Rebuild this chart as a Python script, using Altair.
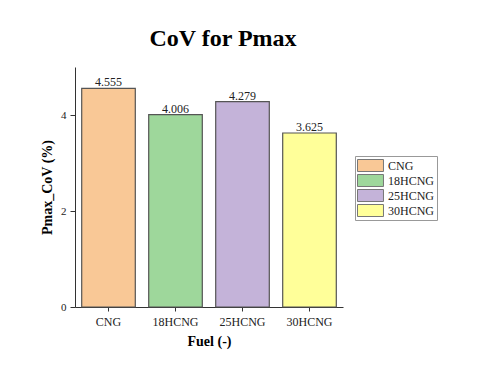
import altair as alt
import pandas as pd

fuels = ["CNG", "18HCNG", "25HCNG", "30HCNG"]
values = [4.555, 4.006, 4.279, 3.625]
labels = ["4.555", "4.006", "4.279", "3.625"]
colors = ["#F9C896", "#9ED79B", "#C4B3D9", "#FFFF99"]

df = pd.DataFrame({"Fuel": fuels, "v": values, "lab": labels})
FONT = "Liberation Serif"

x = alt.X("Fuel:N", sort=fuels, title="Fuel (-)",
          scale=alt.Scale(paddingInner=0.2, paddingOuter=0.1),
          axis=alt.Axis(labelAngle=0, labelFont=FONT, labelFontSize=12, labelColor="#222",
                        titleFont=FONT, titleFontSize=14, titleFontWeight="bold",
                        titleColor="#000", titlePadding=7, domainColor="#333",
                        tickColor="#333", tickSize=4, labelPadding=5))
y = alt.Y("v:Q", title="Pmax_CoV (%)",
          scale=alt.Scale(domain=[0, 5], nice=False),
          axis=alt.Axis(values=[0, 2, 4], labelFont=FONT, labelFontSize=11, labelColor="#222",
                        titleFont=FONT, titleFontSize=14, titleFontWeight="bold",
                        titleColor="#000", titlePadding=6, domainColor="#333",
                        tickColor="#333", tickSize=5, grid=False, labelPadding=4))

bars = alt.Chart(df).mark_bar(stroke="#555", strokeWidth=1.2).encode(
    x=x, y=y,
    color=alt.Color("Fuel:N", sort=fuels,
                    scale=alt.Scale(domain=fuels, range=colors),
                    legend=alt.Legend(title=None, orient="none", legendX=280, legendY=89,
                                      symbolType="M-1,-1L3.33,-1L3.33,1L-1,1Z",
                                      symbolSize=144, symbolStrokeColor="#777",
                                      symbolStrokeWidth=1, symbolOpacity=1,
                                      labelFont=FONT, labelFontSize=12, labelColor="#222",
                                      strokeColor="#999", padding=2, rowPadding=0,
                                      clipHeight=15, labelOffset=18)),
)

text = alt.Chart(df).mark_text(dy=-6, font=FONT, fontSize=12, color="#222").encode(
    x=alt.X("Fuel:N", sort=fuels), y="v:Q", text="lab:N")

chart = alt.layer(bars, text).properties(
    width=268, height=240,
    title=alt.Title("CoV for Pmax", font=FONT, fontSize=24, fontWeight="bold",
                    color="#000", anchor="middle", offset=16, dx=14),
    autosize=alt.AutoSizeParams(type="none"),
    padding={"left": 67, "top": 59, "right": 129, "bottom": 50},
).configure_view(stroke=None)

chart.save("out.html", embed_options={"renderer": "svg", "actions": False})
